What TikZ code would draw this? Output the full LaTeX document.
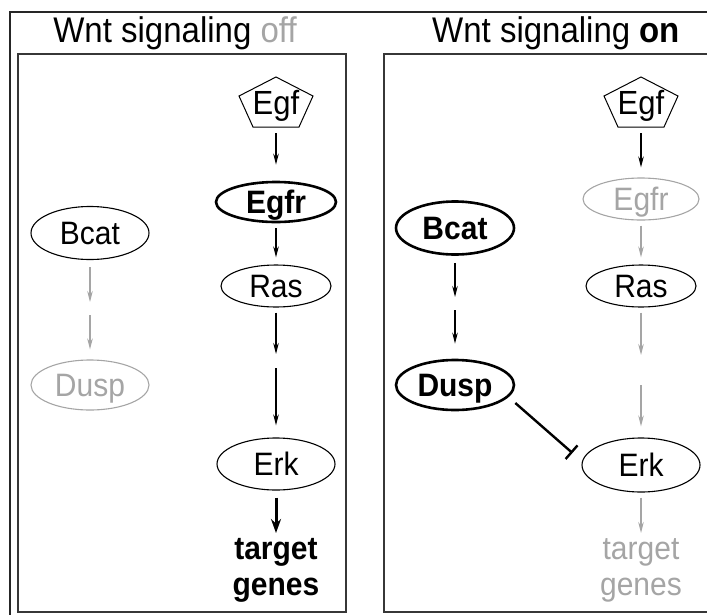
\documentclass[tikz,border=0pt]{standalone}
\usepackage{fontspec}
\usepackage{graphicx}
\setmainfont{Liberation Sans}
\usetikzlibrary{shapes.geometric,arrows.meta,calc}
\definecolor{lgray}{RGB}{165,165,165}
\definecolor{framec}{RGB}{55,55,55}
\newcommand{\stt}[1]{\scalebox{1}[1.08]{#1}}
\begin{document}
\begin{tikzpicture}[x=1pt,y=-1pt,
  lbl/.style={font=\fontsize{30}{36}\selectfont, text height=23pt, text depth=0pt},
  prot/.style={ellipse, draw, line width=1.1pt, inner sep=0pt, lbl, minimum width=118pt, minimum height=48pt},
  onprot/.style={line width=2.6pt, font=\fontsize{30}{36}\selectfont\bfseries},
  offprot/.style={draw=lgray, text=lgray},
  pent/.style={inner sep=0pt, minimum width=72pt, minimum height=50pt, lbl, font=\fontsize{31}{36}\selectfont},
  act/.style={-{Stealth[length=11pt,width=5.5pt]}, line width=1.2pt, shorten <=5pt, shorten >=7pt},
  gact/.style={act, draw=lgray},
  bigact/.style={-{Stealth[length=14pt,width=10pt]}, line width=3pt, shorten <=7pt, shorten >=7pt},
  inh/.style={-{Bar[width=18pt,line width=2.4pt]}, line width=2.4pt},
  tgt/.style={align=center, inner sep=0pt, anchor=north, font=\fontsize{30}{36}\selectfont},
  ttl/.style={anchor=base, inner sep=0pt, font=\fontsize{33}{38}\selectfont}
]
\useasboundingbox (0,0) rectangle (707,614);
% frames
\draw[line width=1.5pt, black!85] (10,620) -- (10,12) -- (712,12);
\draw[line width=1.2pt, framec] (18,612) rectangle (346,54);
\draw[line width=1.2pt, framec] (384,612) rectangle (712,54);
% titles
\node[ttl] (titleL) at (175,42) {\stt{Wnt signaling \textcolor{lgray}{off}}};
\node[ttl] (titleR) at (556,42) {\stt{Wnt signaling \textbf{on}}};

% ---------- left panel ----------
\node[pent] (egfL) at (276,103) {\stt{Egf}};
\draw[line width=1pt] ([shift={(0,-26)}]egfL.center) -- ([shift={(37,-7)}]egfL.center)
  -- ([shift={(23,24)}]egfL.center) -- ([shift={(-23,24)}]egfL.center)
  -- ([shift={(-37,-7)}]egfL.center) -- cycle;
\node[prot, onprot, minimum width=120pt, minimum height=40pt] (egfrL) at (276,202) {\stt{Egfr}};
\node[prot, minimum width=110pt, minimum height=42pt] (rasL) at (276,286) {\stt{Ras}};
\coordinate (mL) at (276,360);
\node[prot, minimum height=52pt] (erkL) at (276,464) {\stt{Erk}};
\node[tgt, font=\fontsize{30}{36}\selectfont\bfseries] (targetL) at (276,538) {\stt{target}\\\stt{genes}};
\node[prot, minimum height=53pt] (bcatL) at (90,233) {\stt{Bcat}};
\coordinate (mBL) at (90,308);
\node[prot, offprot, minimum height=50pt] (duspL) at (90,385) {\stt{Dusp}};

\draw[act, shorten >=16pt] (egfL.south) -- (egfrL.north);
\draw[act] (egfrL.south) -- (rasL.north);
\draw[act, shorten >=6pt] (rasL.south) -- (mL);
\draw[act, shorten <=8pt, shorten >=12pt] (mL) -- (erkL.north);
\draw[bigact, shorten >=5pt] (erkL.south) -- (targetL.north);
\draw[gact, shorten <=7pt, shorten >=6pt] (bcatL.south) -- (mBL);
\draw[gact, shorten <=7pt, shorten >=10pt] (mBL) -- (duspL.north);

% ---------- right panel ----------
\node[pent] (egfR) at (641,103) {\stt{Egf}};
\draw[line width=1pt] ([shift={(0,-26)}]egfR.center) -- ([shift={(37,-7)}]egfR.center)
  -- ([shift={(23,24)}]egfR.center) -- ([shift={(-23,24)}]egfR.center)
  -- ([shift={(-37,-7)}]egfR.center) -- cycle;
\node[prot, offprot, minimum width=116pt, minimum height=42pt] (egfrR) at (641,199) {\stt{Egfr}};
\node[prot, minimum width=110pt, minimum height=42pt] (rasR) at (641,286) {\stt{Ras}};
\coordinate (mR) at (641,365);
\node[prot, minimum height=54pt] (erkR) at (641,465) {\stt{Erk}};
\node[tgt, text=lgray] (targetR) at (641,538) {\stt{target}\\\stt{genes}};
\node[prot, onprot, minimum height=53pt] (bcatR) at (455,228) {\stt{Bcat}};
\coordinate (mBR) at (455,303);
\node[prot, onprot, minimum height=50pt] (duspR) at (455,385) {\stt{Dusp}};

\draw[act, shorten >=10pt] (egfR.south) -- (egfrR.north);
\draw[gact] (egfrR.south) -- (rasR.north);
\draw[gact, shorten >=10pt] (rasR.south) -- (mR);
\draw[gact, shorten <=20pt, shorten >=11pt] (mR) -- (erkR.north);
\draw[gact, shorten >=5pt] (erkR.south) -- (targetR.north);
\draw[act, shorten <=7pt, shorten >=6pt] (bcatR.south) -- (mBR);
\draw[act, shorten <=7pt, shorten >=15pt] (mBR) -- (duspR.north);
\draw[inh] ($(duspR.east)+(0,18)$) -- ($(erkR.west)+(-9,-12)$);
\end{tikzpicture}
\end{document}
